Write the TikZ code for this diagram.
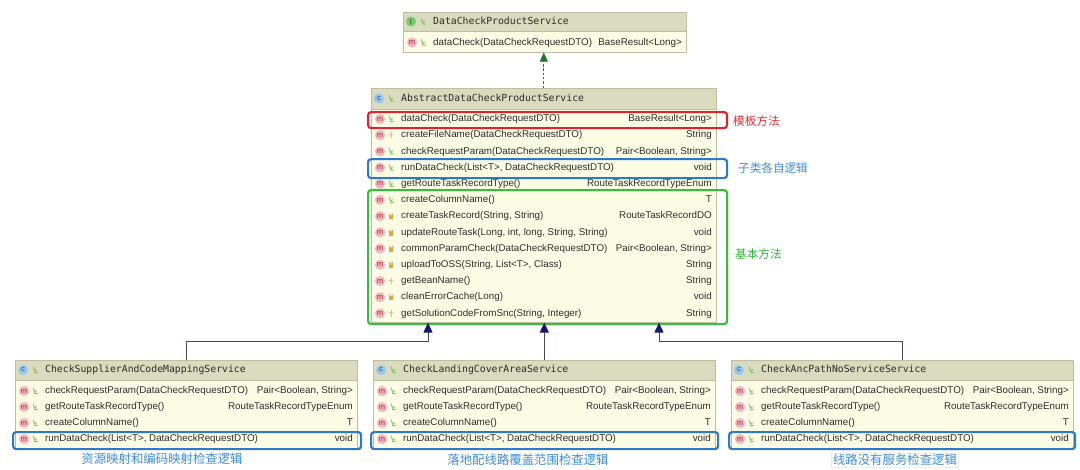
\documentclass[tikz,border=0pt]{standalone}
\usepackage{fontspec}
\setmainfont{Liberation Sans}
\newfontfamily\monof{DejaVu Sans Mono}
\newfontfamily\cjk{Noto Sans CJK SC}
\usetikzlibrary{arrows.meta}
\definecolor{headfill}{RGB}{218,218,190}
\definecolor{bodyfill}{RGB}{252,252,229}
\definecolor{boxline}{RGB}{190,190,165}
\definecolor{hlred}{RGB}{226,32,44}
\definecolor{hlblue}{RGB}{45,120,200}
\definecolor{hlgreen}{RGB}{52,190,58}
\definecolor{labred}{RGB}{232,45,50}
\definecolor{labblue}{RGB}{60,140,222}
\definecolor{labgreen}{RGB}{40,185,50}
\definecolor{inhline}{RGB}{70,72,100}
\definecolor{inhtip}{RGB}{22,26,110}
\definecolor{implc}{RGB}{30,120,40}
\definecolor{mfill}{RGB}{245,180,192}
\definecolor{mtextc}{RGB}{190,30,60}
\definecolor{cfill}{RGB}{150,200,235}
\definecolor{ctextc}{RGB}{20,70,140}
\definecolor{ifill}{RGB}{120,200,110}
\definecolor{itextc}{RGB}{20,90,20}
\definecolor{pubc}{RGB}{140,195,110}
\definecolor{privc}{RGB}{225,165,70}
\definecolor{protc}{RGB}{205,195,130}
\definecolor{txt}{RGB}{45,45,45}
\tikzset{
 umlbody/.style={draw=boxline, fill=bodyfill, line width=0.6pt, inner sep=0, anchor=north west},
 umlhead/.style={draw=boxline, fill=headfill, line width=0.6pt, inner sep=0, anchor=north west},
 icon/.style={circle, inner sep=0, minimum size=10pt, font=\fontsize{7.5}{7.5}\selectfont},
 micon/.style={icon, fill=mfill, text=mtextc},
 cicon/.style={icon, fill=cfill, text=ctextc},
 iicon/.style={icon, fill=ifill, text=itextc},
 mtext/.style={font=\fontsize{9.8}{10}\selectfont, text=txt, inner sep=0, text height=7.5pt, text depth=2pt},
 htext/.style={font=\monof\fontsize{9.8}{10}\selectfont, text=txt, inner sep=0, text height=7.5pt, text depth=2pt, anchor=west},
 hl/.style={draw=#1, line width=2.2pt, rounded corners=3pt, inner sep=0, anchor=north west},
 lab/.style={font=\cjk\fontsize{11.6}{12}\selectfont, inner sep=0, anchor=west},
 blab/.style={font=\cjk\fontsize{12.4}{13}\selectfont, inner sep=1.5pt, text=labblue},
 inh/.style={draw=inhline, line width=0.9pt, -{Triangle[width=9pt,length=10pt,color=inhtip]}},
 implarrow/.style={draw=implc, dash pattern=on 2.5pt off 1.8pt, line width=0.8pt, -{Triangle[width=8pt,length=9pt,color=implc]}},
}
\newcommand\pubvis[2]{\begin{scope}[shift={(#1,#2)}]\draw[pubc, line width=1pt, line cap=round] (-1.6,-2.8) -- (-0.2,2.6) -- (2.6,2.6);\fill[pubc] (-0.6,0.4) -- (1.8,-1.2) -- (1.2,1.6) -- cycle;\end{scope}}
\newcommand\privvis[2]{\begin{scope}[shift={(#1,#2)}]\fill[privc] (-2.3,-0.3) rectangle (2.3,3.2);\draw[privc, line width=0.9pt] (-1.4,-0.3) -- (-1.4,-1.6) arc(180:0:1.4) -- (1.4,-0.3);\end{scope}}
\newcommand\protvis[2]{\begin{scope}[shift={(#1,#2)}]\draw[protc, line width=0.9pt] (0,-3.5) -- (0,3.2) (-2,-1) -- (2,-1);\end{scope}}
\newcommand\umlrow[7]{%
 \pgfmathsetmacro\ix{#2+9}\pgfmathsetmacro\vx{#2+20}\pgfmathsetmacro\tx{#2+30}\pgfmathsetmacro\rx{#3-4}%
 \node[micon] (#1i) at (\ix,#4) {m};
 #5{\vx}{#4}
 \node[mtext,anchor=west] (#1m) at (\tx,#4) {#6};
 \node[mtext,anchor=east] (#1r) at (\rx,#4) {#7};
}
\newcommand\umlhdr[6]{% #1 name, #2 L, #3 y, #4 icon style, #5 letter, #6 title
 \pgfmathsetmacro\ix{#2+8}\pgfmathsetmacro\vx{#2+20}\pgfmathsetmacro\tx{#2+30}%
 \node[#4] (#1i) at (\ix,#3) {#5};
 \pubvis{\vx}{#3}
 \node[htext] (#1t) at (\tx,#3) {#6};
}
\begin{document}
\begin{tikzpicture}[x=1pt,y=-1pt]
\useasboundingbox[fill=white] (0,0) rectangle (1080,469);
% ---------- interface ----------
\node[umlbody, minimum width=283pt, minimum height=40pt] (topb) at (403,12) {};
\node[umlhead, minimum width=283pt, minimum height=19pt] (toph) at (403,12) {};
\umlhdr{toph}{403}{21.5}{iicon}{I}{DataCheckProductService}
\umlrow{t1}{403}{686}{42.5}{\pubvis}{dataCheck(DataCheckRequestDTO)}{BaseResult<Long>}
% ---------- abstract class ----------
\node[umlbody, minimum width=345pt, minimum height=234pt] (midb) at (371,88) {};
\node[umlhead, minimum width=345pt, minimum height=21pt] (midh) at (371,88) {};
\umlhdr{midh}{371}{98.5}{cicon}{c}{AbstractDataCheckProductService}
\umlrow{m1}{371}{716}{119}{\pubvis}{dataCheck(DataCheckRequestDTO)}{BaseResult<Long>}
\umlrow{m2}{371}{716}{135.2}{\protvis}{createFileName(DataCheckRequestDTO)}{String}
\umlrow{m3}{371}{716}{151.4}{\pubvis}{checkRequestParam(DataCheckRequestDTO)}{Pair<Boolean, String>}
\umlrow{m4}{371}{716}{167.6}{\pubvis}{runDataCheck(List<T>, DataCheckRequestDTO)}{void}
\umlrow{m5}{371}{716}{183.8}{\pubvis}{getRouteTaskRecordType()}{RouteTaskRecordTypeEnum}
\umlrow{m6}{371}{716}{200}{\pubvis}{createColumnName()}{T}
\umlrow{m7}{371}{716}{216.2}{\privvis}{createTaskRecord(String, String)}{RouteTaskRecordDO}
\umlrow{m8}{371}{716}{232.4}{\privvis}{updateRouteTask(Long, int, long, String, String)}{void}
\umlrow{m9}{371}{716}{248.6}{\privvis}{commonParamCheck(DataCheckRequestDTO)}{Pair<Boolean, String>}
\umlrow{m10}{371}{716}{264.8}{\privvis}{uploadToOSS(String, List<T>, Class)}{String}
\umlrow{m11}{371}{716}{281}{\protvis}{getBeanName()}{String}
\umlrow{m12}{371}{716}{297.2}{\privvis}{cleanErrorCache(Long)}{void}
\umlrow{m13}{371}{716}{313.4}{\protvis}{getSolutionCodeFromSnc(String, Integer)}{String}
% ---------- subclasses ----------
\node[umlbody, minimum width=342pt, minimum height=88pt] (leftb) at (15,360) {};
\node[umlhead, minimum width=342pt, minimum height=20pt] (lefth) at (15,360) {};
\umlhdr{lefth}{15}{370}{cicon}{c}{CheckSupplierAndCodeMappingService}
\umlrow{l1}{15}{357}{391}{\pubvis}{checkRequestParam(DataCheckRequestDTO)}{Pair<Boolean, String>}
\umlrow{l2}{15}{357}{407}{\pubvis}{getRouteTaskRecordType()}{RouteTaskRecordTypeEnum}
\umlrow{l3}{15}{357}{423}{\pubvis}{createColumnName()}{T}
\umlrow{l4}{15}{357}{439}{\pubvis}{runDataCheck(List<T>, DataCheckRequestDTO)}{void}

\node[umlbody, minimum width=342pt, minimum height=88pt] (cenb) at (373,360) {};
\node[umlhead, minimum width=342pt, minimum height=20pt] (cenh) at (373,360) {};
\umlhdr{cenh}{373}{370}{cicon}{c}{CheckLandingCoverAreaService}
\umlrow{c1}{373}{715}{391}{\pubvis}{checkRequestParam(DataCheckRequestDTO)}{Pair<Boolean, String>}
\umlrow{c2}{373}{715}{407}{\pubvis}{getRouteTaskRecordType()}{RouteTaskRecordTypeEnum}
\umlrow{c3}{373}{715}{423}{\pubvis}{createColumnName()}{T}
\umlrow{c4}{373}{715}{439}{\pubvis}{runDataCheck(List<T>, DataCheckRequestDTO)}{void}

\node[umlbody, minimum width=342pt, minimum height=88pt] (rightb) at (731,360) {};
\node[umlhead, minimum width=342pt, minimum height=20pt] (righth) at (731,360) {};
\umlhdr{righth}{731}{370}{cicon}{c}{CheckAncPathNoServiceService}
\umlrow{r1}{731}{1073}{391}{\pubvis}{checkRequestParam(DataCheckRequestDTO)}{Pair<Boolean, String>}
\umlrow{r2}{731}{1073}{407}{\pubvis}{getRouteTaskRecordType()}{RouteTaskRecordTypeEnum}
\umlrow{r3}{731}{1073}{423}{\pubvis}{createColumnName()}{T}
\umlrow{r4}{731}{1073}{439}{\pubvis}{runDataCheck(List<T>, DataCheckRequestDTO)}{void}
% ---------- highlight frames ----------
\node[hl=hlred, minimum width=359pt, minimum height=16pt] (redbox) at (367,111) {};
\node[hl=hlblue, minimum width=359pt, minimum height=19pt] (bluebox) at (367,158) {};
\node[hl=hlgreen, minimum width=359pt, minimum height=134pt] (greenbox) at (367,189) {};
\node[hl=hlblue, minimum width=348pt, minimum height=17pt] (lblue) at (12,431) {};
\node[hl=hlblue, minimum width=347pt, minimum height=17pt] (cblue) at (370,431) {};
\node[hl=hlblue, minimum width=346pt, minimum height=17pt] (rblue) at (728,431) {};
% ---------- connectors ----------
\coordinate (lj) at (428,341);
\coordinate (rj) at (659,341);
\draw[inh] (leftb.north) |- (lj) -- (lj |- midb.south);
\draw[inh] (cenb.north) -- (cenb.north |- midb.south);
\draw[inh] (rightb.north) |- (rj) -- (rj |- midb.south);
\draw[implarrow] (midb.north) -- (midb.north |- topb.south);
% ---------- labels ----------
\node[lab, text=labred] (labT) at (733,121) {模板方法};
\node[lab, text=labblue] (labS) at (738,168) {子类各自逻辑};
\node[lab, text=labgreen] (labB) at (735,254) {基本方法};
\node[blab] (labL) at (162,459) {资源映射和编码映射检查逻辑};
\node[blab] (labC) at (528,460) {落地配线路覆盖范围检查逻辑};
\node[blab, draw=gray!15, line width=0.5pt] (labR) at (895,460) {线路没有服务检查逻辑};
\end{tikzpicture}
\end{document}
